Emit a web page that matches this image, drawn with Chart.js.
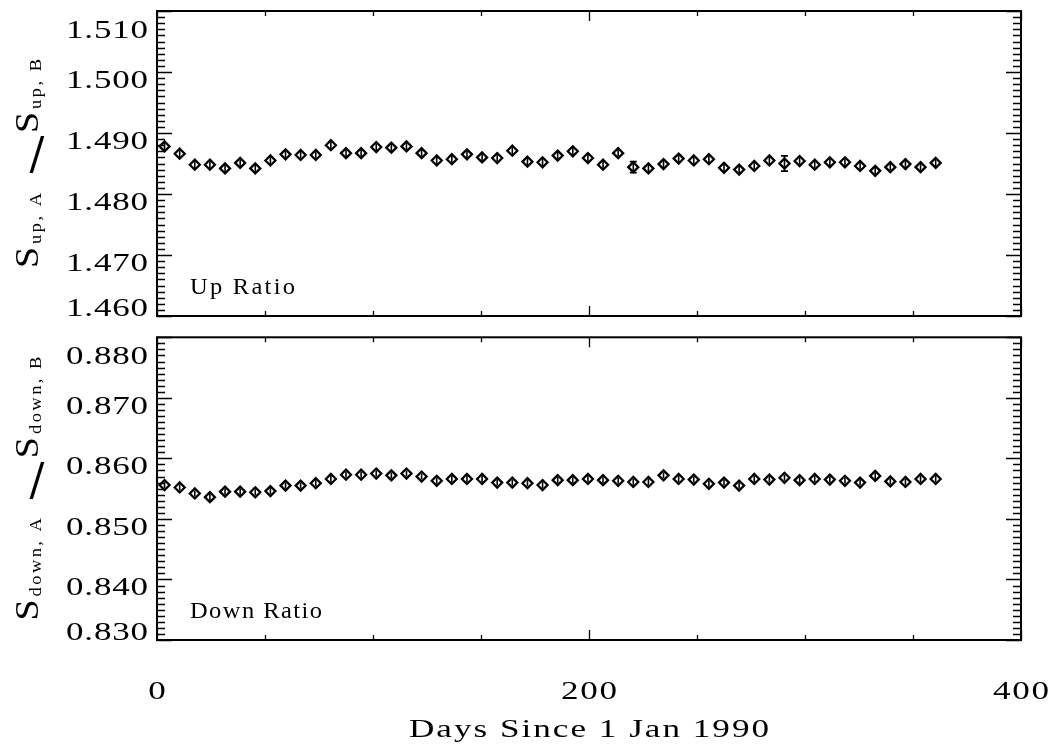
<!DOCTYPE html>
<html>
<head>
<meta charset="utf-8">
<script src="https://cdn.jsdelivr.net/npm/chart.js@4.4.1/dist/chart.umd.min.js"></script>
<style>
    html, body { margin: 0; padding: 0; background: #fff; }
    .panel { position: absolute; left: 0; width: 1048px; }
    #upWrap { top: 0; height: 330px; }
    #downWrap { top: 330px; height: 418px; }
</style>
</head>
<body>
<div class="panel" id="upWrap"><canvas id="upChart" width="1048" height="330"></canvas></div>
<div class="panel" id="downWrap"><canvas id="downChart" width="1048" height="418"></canvas></div>
<script>
// Weekly bins, days since 1 Jan 1990
const days = [
    3.5, 10.5, 17.5, 24.5, 31.5, 38.5, 45.5, 52.5, 59.5, 66.5,
    73.5, 80.5, 87.5, 94.5, 101.5, 108.5, 115.5, 122.5, 129.5, 136.5,
    143.5, 150.5, 157.5, 164.5, 171.5, 178.5, 185.5, 192.5, 199.5, 206.5,
    213.5, 220.5, 227.5, 234.5, 241.5, 248.5, 255.5, 262.5, 269.5, 276.5,
    283.5, 290.5, 297.5, 304.5, 311.5, 318.5, 325.5, 332.5, 339.5, 346.5,
    353.5, 360.5
];

// S_up,A / S_up,B
const upRatio = [
    1.4878, 1.4866, 1.4848, 1.4848, 1.4842, 1.4851, 1.4842, 1.4855, 1.4865, 1.4864,
    1.4864, 1.4880, 1.4867, 1.4867, 1.4877, 1.4876, 1.4878, 1.4867, 1.4855, 1.4857,
    1.4865, 1.4860, 1.4859, 1.4871, 1.4853, 1.4852, 1.4863, 1.4870, 1.4859, 1.4848,
    1.4867, 1.4844, 1.4842, 1.4849, 1.4858, 1.4855, 1.4857, 1.4843, 1.4840, 1.4846,
    1.4855, 1.4850, 1.4854, 1.4848, 1.4852, 1.4852, 1.4846, 1.4838, 1.4844, 1.4849,
    1.4844, 1.4851
];
const upErr = [
    0.0006, 0.0006, 0.0006, 0.0006, 0.0006, 0.0006, 0.0006, 0.0006, 0.0006, 0.0006,
    0.0006, 0.0006, 0.0006, 0.0006, 0.0006, 0.0006, 0.0006, 0.0006, 0.0006, 0.0006,
    0.0006, 0.0006, 0.0006, 0.0006, 0.0006, 0.0006, 0.0006, 0.0006, 0.0006, 0.0006,
    0.0006, 0.0009, 0.0006, 0.0006, 0.0006, 0.0006, 0.0006, 0.0006, 0.0006, 0.0006,
    0.0006, 0.00125, 0.0006, 0.0006, 0.0006, 0.0006, 0.0006, 0.0006, 0.0006, 0.0006,
    0.0006, 0.0008
];

// S_down,A / S_down,B
const downRatio = [
    0.8556, 0.8552, 0.8542, 0.8536, 0.8545, 0.8545, 0.8544, 0.8546, 0.8555, 0.8555,
    0.8559, 0.8566, 0.8573, 0.8573, 0.8575, 0.8572, 0.8575, 0.8570, 0.8563, 0.8566,
    0.8566, 0.8566, 0.8560, 0.8560, 0.8559, 0.8556, 0.8564, 0.8564, 0.8566, 0.8564,
    0.8563, 0.8561, 0.8561, 0.8572, 0.8566, 0.8565, 0.8558, 0.8560, 0.8555, 0.8566,
    0.8565, 0.8568, 0.8564, 0.8566, 0.8565, 0.8563, 0.8560, 0.8571, 0.8562, 0.8561,
    0.8566, 0.8566
];
const downErr = [
    0.0005, 0.0005, 0.0005, 0.0005, 0.0005, 0.0005, 0.0005, 0.0005, 0.0005, 0.0005,
    0.0005, 0.0005, 0.0005, 0.0005, 0.0005, 0.0005, 0.0005, 0.0005, 0.0005, 0.0005,
    0.0005, 0.0005, 0.0005, 0.0005, 0.0005, 0.0005, 0.0005, 0.0005, 0.0005, 0.0005,
    0.0005, 0.0005, 0.0005, 0.0005, 0.0005, 0.0005, 0.0005, 0.0005, 0.0005, 0.0005,
    0.0005, 0.0005, 0.0005, 0.0005, 0.0005, 0.0005, 0.0005, 0.0005, 0.0005, 0.0005,
    0.0005, 0.0005
];

const upTicks = ['1.460', '1.470', '1.480', '1.490', '1.500', '1.510'];
const downTicks = ['0.830', '0.840', '0.850', '0.860', '0.870', '0.880'];
const dayTicks = ['0', '200', '400'];

const SERIF = '"Liberation Serif", "Times New Roman", serif';

// width of a string drawn char by char with sideways stretch and extra gap
function spacedWidth(ctx, text, stretch, gap) {
    const chars = [...text];
    const sum = chars.reduce((s, c) => s + ctx.measureText(c).width * stretch, 0);
    return sum + gap * (chars.length - 1);
}

function drawSpaced(ctx, text, x, y, stretch, gap) {
    let cx = x;
    [...text].forEach(c => {
        const w = ctx.measureText(c).width * stretch;
        ctx.save();
        ctx.translate(cx, y);
        ctx.scale(stretch, 1);
        ctx.fillText(c, 0, 0);
        ctx.restore();
        cx += w + gap;
    });
}

// spread a string across a fixed width
function drawFitted(ctx, text, x, y, width, align, stretch) {
    const n = [...text].length;
    const natural = spacedWidth(ctx, text, stretch, 0);
    const gap = n > 1 ? (width - natural) / (n - 1) : 0;
    const total = n > 1 ? width : natural;
    let left = x;
    if (align === 'right') left = x - total;
    else if (align === 'center') left = x - total / 2;
    drawSpaced(ctx, text, left, y, stretch, gap);
}

// rotated "S_sub,A / S_sub,B" label
function drawRatioTitle(ctx, sub, cy) {
    const big = '33px ' + SERIF;
    const small = '16px ' + SERIF;
    const st = 1.15, subGap = 2.5, slashLen = 37;
    ctx.font = big;
    const sW = spacedWidth(ctx, 'S', st, 0);
    ctx.font = small;
    const aW = spacedWidth(ctx, sub + ', A', st, subGap);
    const bW = spacedWidth(ctx, sub + ', B', st, subGap);
    const total = sW + 3 + aW + 20 + slashLen + 3 + sW + 3 + bW;
    const start = cy + total / 2;

    ctx.save();
    ctx.fillStyle = '#000';
    ctx.textAlign = 'left';
    ctx.textBaseline = 'alphabetic';
    ctx.translate(38, start);
    ctx.rotate(-Math.PI / 2);
    let pos = 0;
    ctx.font = big;
    drawSpaced(ctx, 'S', pos, 0, st, 0);
    pos += sW + 3;
    ctx.font = small;
    drawSpaced(ctx, sub + ', A', pos, 3, st, subGap);
    pos += aW + 20;
    const slashAt = pos + slashLen / 2;
    pos += slashLen + 3;
    ctx.font = big;
    drawSpaced(ctx, 'S', pos, 0, st, 0);
    pos += sW + 3;
    ctx.font = small;
    drawSpaced(ctx, sub + ', B', pos, 3, st, subGap);
    ctx.restore();

    // the slash stands upright between the two halves
    ctx.save();
    ctx.setTransform(1, 0, 0, 1, 0, 0);
    ctx.fillStyle = '#000';
    ctx.font = '44px "DejaVu Serif"';
    ctx.textAlign = 'center';
    ctx.textBaseline = 'alphabetic';
    ctx.fillText('/', 37, start - slashAt + 15);
    ctx.restore();
}

// vertical error bars through each marker
const errorBars = {
    id: 'errorBars',
    afterDatasetsDraw(chart) {
        const { ctx, scales: { y } } = chart;
        const ds = chart.data.datasets[0];
        const meta = chart.getDatasetMeta(0);
        ctx.save();
        ctx.strokeStyle = '#000';
        ctx.lineWidth = 1.6;
        meta.data.forEach((pt, i) => {
            const v = ds.data[i].y;
            const e = ds.errors[i];
            const y0 = y.getPixelForValue(v - e);
            const y1 = y.getPixelForValue(v + e);
            ctx.beginPath();
            ctx.moveTo(pt.x, y0);
            ctx.lineTo(pt.x, y1);
            if (y0 - y1 > 10) {
                ctx.moveTo(pt.x - 3.5, y0); ctx.lineTo(pt.x + 3.5, y0);
                ctx.moveTo(pt.x - 3.5, y1); ctx.lineTo(pt.x + 3.5, y1);
            }
            ctx.stroke();
        });
        ctx.restore();
    }
};

// boxed frame, inward ticks and all labels
const frameAxes = {
    id: 'frameAxes',
    afterDraw(chart, args, opts) {
        const { ctx, chartArea: a, scales: { x, y } } = chart;
        ctx.save();
        ctx.strokeStyle = '#000';
        ctx.fillStyle = '#000';

        ctx.lineWidth = 1.3;
        ctx.beginPath();
        const yMin = y.min;
        for (let i = 0; i <= 50; i++) {
            const py = Math.round(y.getPixelForValue(yMin + i * 0.001)) + 0.5;
            const len = i % 10 === 0 ? 15 : 8;
            ctx.moveTo(a.left, py); ctx.lineTo(a.left + len, py);
            ctx.moveTo(a.right, py); ctx.lineTo(a.right - len, py);
        }
        for (let d = 0; d <= 400; d += 50) {
            const px = Math.round(x.getPixelForValue(d)) + 0.5;
            const len = d % 200 === 0 ? 10 : 5;
            ctx.moveTo(px, a.bottom); ctx.lineTo(px, a.bottom - len);
            ctx.moveTo(px, a.top); ctx.lineTo(px, a.top + len);
        }
        ctx.stroke();

        ctx.lineWidth = 2;
        ctx.strokeRect(a.left, a.top, a.right - a.left, a.bottom - a.top);

        ctx.textAlign = 'left';
        ctx.textBaseline = 'alphabetic';

        // y tick labels
        ctx.font = '25px ' + SERIF;
        opts.yTicks.forEach(t => {
            const py = y.getPixelForValue(parseFloat(t));
            const base = Math.min(Math.max(py + 16, a.top + 27), a.bottom);
            drawFitted(ctx, t, 148, base, 82, 'right', 1.4);
        });

        // panel name
        ctx.font = '24px ' + SERIF;
        drawFitted(ctx, opts.name, a.left + 33, a.bottom - 22, opts.nameWidth, 'left', 1.02);

        // x tick labels and title on the lower panel
        if (opts.showX) {
            ctx.font = '26px ' + SERIF;
            dayTicks.forEach(t => {
                const px = x.getPixelForValue(parseFloat(t));
                drawFitted(ctx, t, px, a.bottom + 59, t.length > 1 ? 56 : 0, 'center', 1.35);
            });
            ctx.font = '26px ' + SERIF;
            drawFitted(ctx, 'Days Since 1 Jan 1990', (a.left + a.right) / 2, a.bottom + 97, 360, 'center', 1.35);
        }
        ctx.restore();

        drawRatioTitle(ctx, opts.sub, (a.top + a.bottom) / 2);
    }
};

function makePanel(canvasId, values, errors, yMin, yMax, padding, frameOpts) {
    return new Chart(document.getElementById(canvasId), {
        type: 'scatter',
        data: {
            datasets: [{
                data: days.map((d, i) => ({ x: d, y: values[i] })),
                errors: errors,
                pointStyle: 'rectRot',
                pointRadius: 5,
                pointBorderWidth: 2.3,
                pointBackgroundColor: '#fff',
                pointBorderColor: '#000',
                showLine: false
            }]
        },
        options: {
            responsive: false,
            animation: false,
            layout: { padding: padding },
            plugins: {
                legend: { display: false },
                tooltip: { enabled: false },
                frameAxes: frameOpts
            },
            scales: {
                x: { type: 'linear', min: 0, max: 400, display: false },
                y: { type: 'linear', min: yMin, max: yMax, display: false }
            }
        },
        plugins: [errorBars, frameAxes]
    });
}

makePanel('upChart', upRatio, upErr, 1.460, 1.510,
    { left: 157, right: 27, top: 11, bottom: 14 },
    { yTicks: upTicks, name: 'Up Ratio', nameWidth: 105, sub: 'up', showX: false });

makePanel('downChart', downRatio, downErr, 0.830, 0.880,
    { left: 157, right: 27, top: 7, bottom: 108 },
    { yTicks: downTicks, name: 'Down Ratio', nameWidth: 132, sub: 'down', showX: true });
</script>
</body>
</html>
